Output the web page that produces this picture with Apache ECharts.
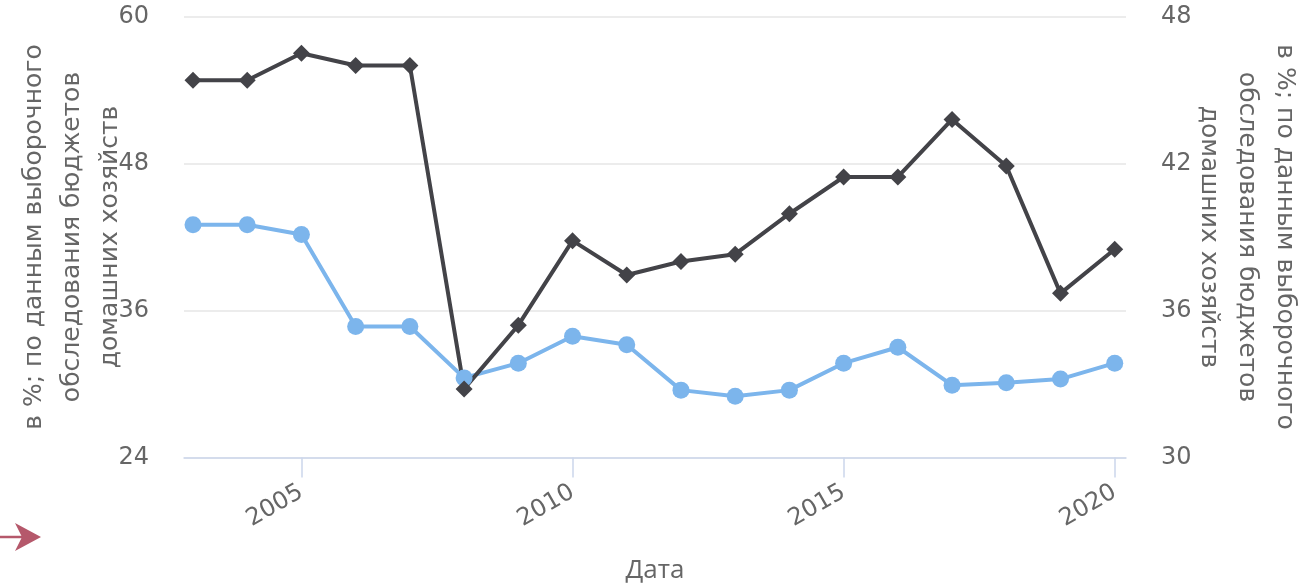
<!DOCTYPE html>
<html>
<head>
<meta charset="utf-8">
<script src="https://cdn.jsdelivr.net/npm/echarts@6/dist/echarts.min.js"></script>
<style>
html,body{margin:0;padding:0;background:#fff;}
#chart{width:1313px;height:583px;}
</style>
</head>
<body>
<div id="chart"></div>
<script>
const years = [2003,2004,2005,2006,2007,2008,2009,2010,2011,2012,2013,2014,2015,2016,2017,2018,2019,2020];
const blueValues = [43.0,43.0,42.2,34.7,34.7,30.5,31.7,33.9,33.2,29.5,29.0,29.5,31.7,33.0,29.9,30.1,30.4,31.7];
const blackValues = [45.4,45.4,46.5,46.0,46.0,32.8,35.4,38.85,37.45,38.0,38.3,39.95,41.45,41.45,43.8,41.9,36.7,38.5];
const xTicks = [2005,2010,2015,2020];
const axisName = 'в %; по данным выборочного\nобследования бюджетов\nдомашних хозяйств';
const xName = 'Дата';

const chart = echarts.init(document.getElementById('chart'));
const nameStyle = {fontFamily:'DejaVu Sans', fontSize:25, color:'#666666', lineHeight:38, align:'center'};
chart.setOption({
  animation:false,
  grid:{left:184, right:187, top:16.5, bottom:125.5, containLabel:false, outerBoundsMode:'none'},
  xAxis:{
    type:'value', min:2002.834, max:2020.208,
    name:xName, nameLocation:'middle', nameGap:100, nameMoveOverlap:false,
    nameTextStyle:{fontFamily:'Open Sans', fontSize:26, color:'#666666'},
    axisLine:{show:true, lineStyle:{color:'#ccd6eb', width:1.5}},
    axisTick:{show:true, length:20, lineStyle:{color:'#ccd6eb', width:1.5}, customValues:xTicks},
    axisLabel:{rotate:30, margin:33, fontFamily:'DejaVu Sans', fontSize:24, color:'#666666', customValues:xTicks, formatter:v=>String(v)},
    splitLine:{show:false}
  },
  yAxis:[
    {type:'value', min:24, max:60, interval:12, position:'left',
     name:axisName, nameLocation:'middle', nameGap:55, nameRotate:90, nameMoveOverlap:false,
     nameTextStyle:nameStyle,
     axisLine:{show:false}, axisTick:{show:false},
     axisLabel:{margin:35, fontFamily:'DejaVu Sans', fontSize:24, color:'#666666'},
     splitLine:{lineStyle:{color:'#e6e6e6', width:1.5}}},
    {type:'value', min:30, max:48, interval:6, position:'right',
     name:axisName, nameLocation:'middle', nameGap:63, nameRotate:-90, nameMoveOverlap:false,
     nameTextStyle:nameStyle,
     axisLine:{show:false}, axisTick:{show:false},
     axisLabel:{margin:35, fontFamily:'DejaVu Sans', fontSize:24, color:'#666666'},
     splitLine:{show:false}}
  ],
  series:[
    {type:'line', yAxisIndex:0, data:years.map((y,i)=>[y,blueValues[i]]),
     symbol:'circle', symbolSize:17, lineStyle:{color:'#7cb5ec', width:4},
     itemStyle:{color:'#7cb5ec'}},
    {type:'line', yAxisIndex:1, data:years.map((y,i)=>[y,blackValues[i]]),
     symbol:'diamond', symbolSize:17, lineStyle:{color:'#434348', width:4},
     itemStyle:{color:'#434348'}}
  ],
  graphic:[
    {type:'line', shape:{x1:0,y1:537,x2:28,y2:537}, style:{stroke:'#b5586b', lineWidth:2.5}},
    {type:'polygon', shape:{points:[[41,537],[15,523],[22,537],[15,551]]}, style:{fill:'#b5586b'}}
  ]
});
</script>
</body>
</html>
